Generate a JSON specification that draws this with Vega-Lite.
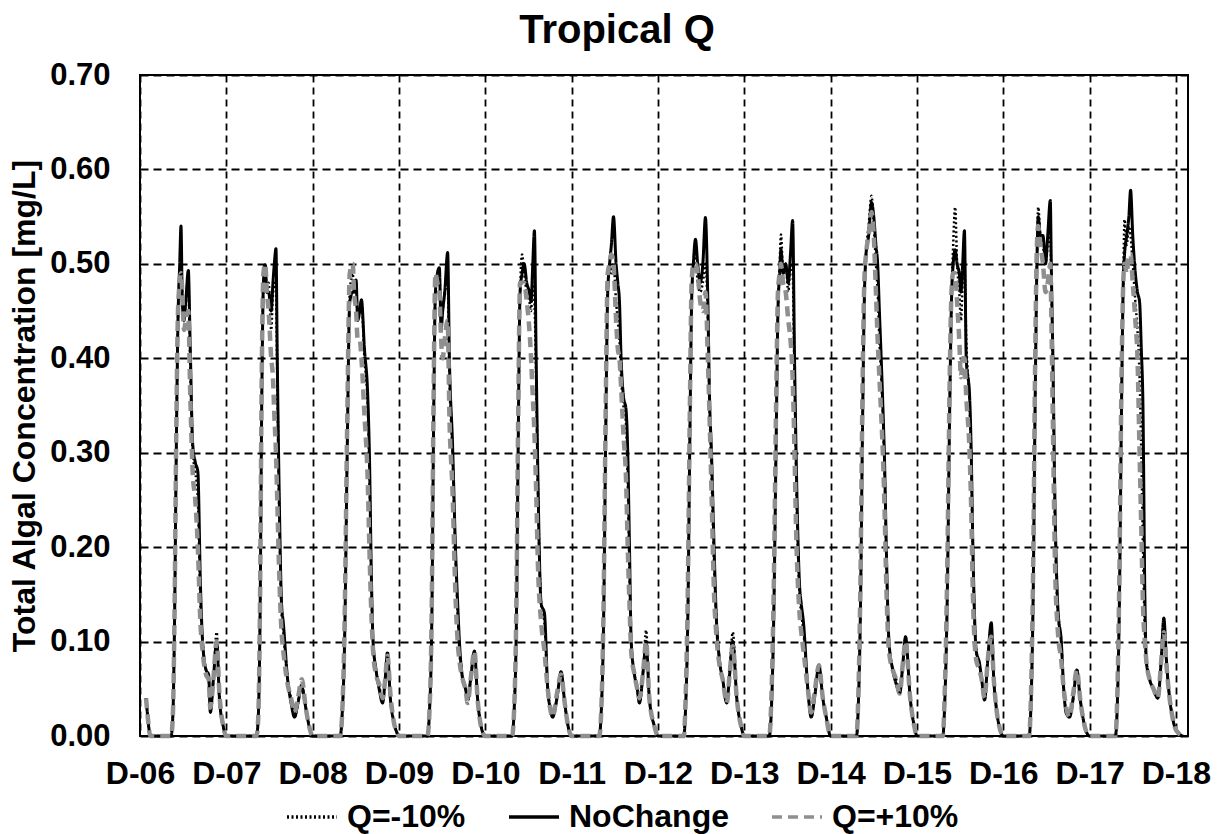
{
"$schema": "https://vega.github.io/schema/vega-lite/v6.json",
"width": 1048,
"height": 661,
"autosize": {"type": "none"},
"padding": {"left": 140, "top": 75, "right": 34, "bottom": 98},
"background": "white",
"title": {"text": "Tropical Q", "fontSize": 40, "font": "Liberation Sans", "fontWeight": "bold", "color": "black", "anchor": "middle", "frame": "group", "dx": -47, "offset": 8},
"data": {"values": [
{"t":0.07,"a":0.04,"b":0.04,"c":0.04},
{"t":0.09,"a":0.02,"b":0.02,"c":0.02},
{"t":0.12,"a":0,"b":0,"c":0},
{"t":0.36,"a":0,"b":0,"c":0},
{"t":0.38,"a":0.02,"b":0.02,"c":0.02},
{"t":0.40,"a":0.12,"b":0.12,"c":0.13},
{"t":0.42,"a":0.30,"b":0.30,"c":0.32},
{"t":0.44,"a":0.44,"b":0.44,"c":0.45},
{"t":0.46,"a":0.49,"b":0.50,"c":0.48},
{"t":0.475,"a":0.50,"b":0.54,"c":0.49},
{"t":0.49,"a":0.47,"b":0.46,"c":0.47},
{"t":0.51,"a":0.44,"b":0.44,"c":0.43},
{"t":0.53,"a":0.46,"b":0.46,"c":0.44},
{"t":0.56,"a":0.48,"b":0.493,"c":0.45},
{"t":0.58,"a":0.40,"b":0.42,"c":0.37},
{"t":0.61,"a":0.30,"b":0.31,"c":0.28},
{"t":0.64,"a":0.28,"b":0.29,"c":0.25},
{"t":0.67,"a":0.25,"b":0.28,"c":0.20},
{"t":0.70,"a":0.14,"b":0.16,"c":0.12},
{"t":0.725,"a":0.10,"b":0.10,"c":0.09},
{"t":0.765,"a":0.07,"b":0.07,"c":0.065},
{"t":0.795,"a":0.06,"b":0.065,"c":0.06},
{"t":0.815,"a":0.03,"b":0.025,"c":0.03},
{"t":0.85,"a":0.06,"b":0.06,"c":0.06},
{"t":0.888,"a":0.11,"b":0.10,"c":0.10},
{"t":0.92,"a":0.04,"b":0.04,"c":0.045},
{"t":0.965,"a":0.01,"b":0.01,"c":0.01},
{"t":1.00,"a":0,"b":0,"c":0},
{"t":1.35,"a":0,"b":0,"c":0},
{"t":1.37,"a":0.02,"b":0.02,"c":0.02},
{"t":1.39,"a":0.12,"b":0.12,"c":0.14},
{"t":1.41,"a":0.35,"b":0.35,"c":0.38},
{"t":1.43,"a":0.48,"b":0.48,"c":0.49},
{"t":1.45,"a":0.50,"b":0.499,"c":0.50},
{"t":1.47,"a":0.47,"b":0.47,"c":0.47},
{"t":1.49,"a":0.48,"b":0.47,"c":0.45},
{"t":1.52,"a":0.43,"b":0.45,"c":0.40},
{"t":1.54,"a":0.47,"b":0.48,"c":0.38},
{"t":1.556,"a":0.48,"b":0.50,"c":0.34},
{"t":1.575,"a":0.47,"b":0.516,"c":0.30},
{"t":1.59,"a":0.38,"b":0.40,"c":0.25},
{"t":1.61,"a":0.25,"b":0.27,"c":0.18},
{"t":1.64,"a":0.13,"b":0.14,"c":0.11},
{"t":1.66,"a":0.11,"b":0.12,"c":0.09},
{"t":1.71,"a":0.06,"b":0.06,"c":0.055},
{"t":1.75,"a":0.04,"b":0.035,"c":0.04},
{"t":1.79,"a":0.02,"b":0.02,"c":0.025},
{"t":1.83,"a":0.035,"b":0.035,"c":0.04},
{"t":1.873,"a":0.055,"b":0.052,"c":0.06},
{"t":1.92,"a":0.03,"b":0.03,"c":0.03},
{"t":1.96,"a":0.01,"b":0.01,"c":0.01},
{"t":2.00,"a":0,"b":0,"c":0},
{"t":2.32,"a":0,"b":0,"c":0},
{"t":2.34,"a":0.02,"b":0.02,"c":0.02},
{"t":2.37,"a":0.10,"b":0.10,"c":0.12},
{"t":2.40,"a":0.30,"b":0.30,"c":0.33},
{"t":2.43,"a":0.47,"b":0.46,"c":0.49},
{"t":2.464,"a":0.49,"b":0.47,"c":0.50},
{"t":2.48,"a":0.47,"b":0.47,"c":0.47},
{"t":2.503,"a":0.48,"b":0.483,"c":0.45},
{"t":2.522,"a":0.44,"b":0.44,"c":0.42},
{"t":2.545,"a":0.45,"b":0.45,"c":0.42},
{"t":2.565,"a":0.46,"b":0.462,"c":0.40},
{"t":2.60,"a":0.40,"b":0.41,"c":0.34},
{"t":2.638,"a":0.35,"b":0.36,"c":0.27},
{"t":2.657,"a":0.28,"b":0.30,"c":0.20},
{"t":2.68,"a":0.16,"b":0.17,"c":0.13},
{"t":2.70,"a":0.10,"b":0.10,"c":0.09},
{"t":2.734,"a":0.07,"b":0.07,"c":0.065},
{"t":2.77,"a":0.055,"b":0.05,"c":0.055},
{"t":2.81,"a":0.035,"b":0.035,"c":0.04},
{"t":2.84,"a":0.06,"b":0.06,"c":0.06},
{"t":2.867,"a":0.09,"b":0.088,"c":0.085},
{"t":2.90,"a":0.04,"b":0.04,"c":0.045},
{"t":2.94,"a":0.015,"b":0.015,"c":0.015},
{"t":2.97,"a":0.005,"b":0.005,"c":0.005},
{"t":3.00,"a":0,"b":0,"c":0},
{"t":3.33,"a":0,"b":0,"c":0},
{"t":3.35,"a":0.02,"b":0.02,"c":0.02},
{"t":3.38,"a":0.12,"b":0.12,"c":0.14},
{"t":3.40,"a":0.32,"b":0.32,"c":0.35},
{"t":3.422,"a":0.47,"b":0.47,"c":0.49},
{"t":3.445,"a":0.49,"b":0.49,"c":0.48},
{"t":3.468,"a":0.49,"b":0.496,"c":0.47},
{"t":3.488,"a":0.44,"b":0.43,"c":0.42},
{"t":3.506,"a":0.45,"b":0.45,"c":0.40},
{"t":3.53,"a":0.47,"b":0.47,"c":0.42},
{"t":3.564,"a":0.48,"b":0.512,"c":0.44},
{"t":3.584,"a":0.38,"b":0.40,"c":0.34},
{"t":3.62,"a":0.30,"b":0.31,"c":0.26},
{"t":3.654,"a":0.19,"b":0.20,"c":0.15},
{"t":3.68,"a":0.13,"b":0.14,"c":0.10},
{"t":3.70,"a":0.09,"b":0.10,"c":0.08},
{"t":3.738,"a":0.06,"b":0.06,"c":0.06},
{"t":3.77,"a":0.05,"b":0.05,"c":0.05},
{"t":3.796,"a":0.035,"b":0.04,"c":0.035},
{"t":3.83,"a":0.06,"b":0.06,"c":0.06},
{"t":3.874,"a":0.09,"b":0.09,"c":0.09},
{"t":3.91,"a":0.04,"b":0.04,"c":0.04},
{"t":3.951,"a":0.01,"b":0.01,"c":0.01},
{"t":4.00,"a":0,"b":0,"c":0},
{"t":4.31,"a":0,"b":0,"c":0},
{"t":4.33,"a":0.02,"b":0.02,"c":0.02},
{"t":4.36,"a":0.12,"b":0.12,"c":0.14},
{"t":4.38,"a":0.30,"b":0.30,"c":0.33},
{"t":4.403,"a":0.47,"b":0.47,"c":0.48},
{"t":4.426,"a":0.51,"b":0.49,"c":0.48},
{"t":4.45,"a":0.49,"b":0.50,"c":0.48},
{"t":4.48,"a":0.47,"b":0.48,"c":0.46},
{"t":4.511,"a":0.46,"b":0.47,"c":0.43},
{"t":4.53,"a":0.45,"b":0.46,"c":0.40},
{"t":4.55,"a":0.48,"b":0.50,"c":0.36},
{"t":4.569,"a":0.46,"b":0.535,"c":0.32},
{"t":4.589,"a":0.38,"b":0.40,"c":0.26},
{"t":4.61,"a":0.26,"b":0.27,"c":0.18},
{"t":4.647,"a":0.14,"b":0.14,"c":0.12},
{"t":4.685,"a":0.12,"b":0.13,"c":0.09},
{"t":4.723,"a":0.05,"b":0.05,"c":0.05},
{"t":4.75,"a":0.03,"b":0.03,"c":0.03},
{"t":4.78,"a":0.02,"b":0.02,"c":0.02},
{"t":4.83,"a":0.04,"b":0.04,"c":0.045},
{"t":4.878,"a":0.068,"b":0.068,"c":0.065},
{"t":4.92,"a":0.035,"b":0.035,"c":0.035},
{"t":4.96,"a":0.01,"b":0.01,"c":0.01},
{"t":5.00,"a":0,"b":0,"c":0},
{"t":5.32,"a":0,"b":0,"c":0},
{"t":5.34,"a":0.02,"b":0.02,"c":0.02},
{"t":5.37,"a":0.12,"b":0.12,"c":0.14},
{"t":5.395,"a":0.32,"b":0.32,"c":0.35},
{"t":5.418,"a":0.47,"b":0.47,"c":0.49},
{"t":5.44,"a":0.50,"b":0.50,"c":0.50},
{"t":5.46,"a":0.49,"b":0.52,"c":0.51},
{"t":5.485,"a":0.50,"b":0.55,"c":0.50},
{"t":5.515,"a":0.46,"b":0.50,"c":0.44},
{"t":5.535,"a":0.44,"b":0.48,"c":0.41},
{"t":5.554,"a":0.42,"b":0.46,"c":0.40},
{"t":5.573,"a":0.38,"b":0.40,"c":0.37},
{"t":5.60,"a":0.35,"b":0.36,"c":0.32},
{"t":5.631,"a":0.33,"b":0.345,"c":0.27},
{"t":5.65,"a":0.27,"b":0.30,"c":0.20},
{"t":5.67,"a":0.17,"b":0.20,"c":0.14},
{"t":5.69,"a":0.10,"b":0.10,"c":0.09},
{"t":5.728,"a":0.065,"b":0.065,"c":0.065},
{"t":5.76,"a":0.05,"b":0.05,"c":0.05},
{"t":5.785,"a":0.035,"b":0.035,"c":0.04},
{"t":5.83,"a":0.07,"b":0.07,"c":0.07},
{"t":5.863,"a":0.112,"b":0.10,"c":0.10},
{"t":5.90,"a":0.04,"b":0.04,"c":0.04},
{"t":5.96,"a":0.01,"b":0.01,"c":0.01},
{"t":6.00,"a":0,"b":0,"c":0},
{"t":6.30,"a":0,"b":0,"c":0},
{"t":6.32,"a":0.03,"b":0.03,"c":0.04},
{"t":6.345,"a":0.12,"b":0.12,"c":0.15},
{"t":6.37,"a":0.32,"b":0.32,"c":0.35},
{"t":6.39,"a":0.46,"b":0.46,"c":0.48},
{"t":6.41,"a":0.50,"b":0.50,"c":0.50},
{"t":6.435,"a":0.51,"b":0.526,"c":0.50},
{"t":6.46,"a":0.48,"b":0.50,"c":0.49},
{"t":6.49,"a":0.47,"b":0.48,"c":0.46},
{"t":6.52,"a":0.48,"b":0.50,"c":0.45},
{"t":6.55,"a":0.50,"b":0.549,"c":0.47},
{"t":6.578,"a":0.44,"b":0.46,"c":0.40},
{"t":6.597,"a":0.35,"b":0.36,"c":0.34},
{"t":6.62,"a":0.28,"b":0.30,"c":0.26},
{"t":6.65,"a":0.18,"b":0.20,"c":0.15},
{"t":6.674,"a":0.13,"b":0.13,"c":0.11},
{"t":6.713,"a":0.08,"b":0.08,"c":0.075},
{"t":6.75,"a":0.06,"b":0.06,"c":0.06},
{"t":6.797,"a":0.035,"b":0.035,"c":0.035},
{"t":6.83,"a":0.07,"b":0.065,"c":0.065},
{"t":6.867,"a":0.11,"b":0.10,"c":0.095},
{"t":6.913,"a":0.04,"b":0.04,"c":0.04},
{"t":6.964,"a":0.01,"b":0.01,"c":0.01},
{"t":7.00,"a":0,"b":0,"c":0},
{"t":7.29,"a":0,"b":0,"c":0},
{"t":7.31,"a":0.02,"b":0.02,"c":0.03},
{"t":7.34,"a":0.12,"b":0.12,"c":0.15},
{"t":7.37,"a":0.32,"b":0.32,"c":0.36},
{"t":7.39,"a":0.45,"b":0.45,"c":0.47},
{"t":7.41,"a":0.50,"b":0.49,"c":0.49},
{"t":7.425,"a":0.531,"b":0.515,"c":0.50},
{"t":7.45,"a":0.49,"b":0.49,"c":0.48},
{"t":7.48,"a":0.50,"b":0.50,"c":0.47},
{"t":7.51,"a":0.47,"b":0.48,"c":0.44},
{"t":7.535,"a":0.50,"b":0.51,"c":0.42},
{"t":7.56,"a":0.49,"b":0.546,"c":0.38},
{"t":7.582,"a":0.38,"b":0.40,"c":0.30},
{"t":7.60,"a":0.28,"b":0.30,"c":0.22},
{"t":7.64,"a":0.15,"b":0.16,"c":0.13},
{"t":7.66,"a":0.13,"b":0.14,"c":0.11},
{"t":7.686,"a":0.11,"b":0.12,"c":0.09},
{"t":7.736,"a":0.05,"b":0.05,"c":0.05},
{"t":7.775,"a":0.02,"b":0.02,"c":0.025},
{"t":7.82,"a":0.045,"b":0.045,"c":0.05},
{"t":7.864,"a":0.075,"b":0.075,"c":0.075},
{"t":7.91,"a":0.04,"b":0.04,"c":0.04},
{"t":7.949,"a":0.02,"b":0.02,"c":0.02},
{"t":8.00,"a":0,"b":0,"c":0},
{"t":8.30,"a":0,"b":0,"c":0},
{"t":8.32,"a":0.03,"b":0.03,"c":0.04},
{"t":8.345,"a":0.13,"b":0.13,"c":0.16},
{"t":8.37,"a":0.33,"b":0.33,"c":0.37},
{"t":8.39,"a":0.46,"b":0.46,"c":0.48},
{"t":8.41,"a":0.51,"b":0.51,"c":0.51},
{"t":8.44,"a":0.54,"b":0.53,"c":0.53},
{"t":8.474,"a":0.572,"b":0.565,"c":0.555},
{"t":8.50,"a":0.54,"b":0.55,"c":0.53},
{"t":8.525,"a":0.50,"b":0.52,"c":0.47},
{"t":8.545,"a":0.47,"b":0.50,"c":0.42},
{"t":8.565,"a":0.42,"b":0.45,"c":0.38},
{"t":8.586,"a":0.38,"b":0.40,"c":0.34},
{"t":8.605,"a":0.34,"b":0.35,"c":0.30},
{"t":8.625,"a":0.28,"b":0.29,"c":0.24},
{"t":8.645,"a":0.19,"b":0.20,"c":0.16},
{"t":8.676,"a":0.10,"b":0.10,"c":0.09},
{"t":8.72,"a":0.07,"b":0.07,"c":0.07},
{"t":8.76,"a":0.06,"b":0.055,"c":0.06},
{"t":8.80,"a":0.045,"b":0.045,"c":0.045},
{"t":8.84,"a":0.08,"b":0.08,"c":0.08},
{"t":8.868,"a":0.105,"b":0.105,"c":0.10},
{"t":8.922,"a":0.04,"b":0.04,"c":0.04},
{"t":8.97,"a":0.01,"b":0.01,"c":0.01},
{"t":9.00,"a":0,"b":0,"c":0},
{"t":9.30,"a":0,"b":0,"c":0},
{"t":9.32,"a":0.03,"b":0.03,"c":0.04},
{"t":9.35,"a":0.14,"b":0.14,"c":0.17},
{"t":9.38,"a":0.35,"b":0.35,"c":0.38},
{"t":9.40,"a":0.46,"b":0.46,"c":0.47},
{"t":9.42,"a":0.52,"b":0.50,"c":0.49},
{"t":9.443,"a":0.56,"b":0.515,"c":0.49},
{"t":9.465,"a":0.50,"b":0.50,"c":0.46},
{"t":9.49,"a":0.47,"b":0.49,"c":0.42},
{"t":9.51,"a":0.44,"b":0.47,"c":0.38},
{"t":9.53,"a":0.48,"b":0.50,"c":0.40},
{"t":9.55,"a":0.50,"b":0.535,"c":0.40},
{"t":9.571,"a":0.42,"b":0.40,"c":0.36},
{"t":9.61,"a":0.35,"b":0.36,"c":0.30},
{"t":9.629,"a":0.29,"b":0.30,"c":0.24},
{"t":9.648,"a":0.19,"b":0.20,"c":0.15},
{"t":9.687,"a":0.09,"b":0.09,"c":0.08},
{"t":9.725,"a":0.075,"b":0.077,"c":0.07},
{"t":9.75,"a":0.06,"b":0.06,"c":0.06},
{"t":9.783,"a":0.038,"b":0.038,"c":0.04},
{"t":9.82,"a":0.08,"b":0.08,"c":0.08},
{"t":9.861,"a":0.11,"b":0.12,"c":0.105},
{"t":9.89,"a":0.06,"b":0.06,"c":0.06},
{"t":9.919,"a":0.03,"b":0.03,"c":0.03},
{"t":9.96,"a":0.008,"b":0.008,"c":0.008},
{"t":10.00,"a":0,"b":0,"c":0},
{"t":10.30,"a":0,"b":0,"c":0},
{"t":10.32,"a":0.03,"b":0.03,"c":0.04},
{"t":10.345,"a":0.14,"b":0.14,"c":0.17},
{"t":10.37,"a":0.36,"b":0.36,"c":0.40},
{"t":10.39,"a":0.50,"b":0.50,"c":0.52},
{"t":10.405,"a":0.56,"b":0.55,"c":0.54},
{"t":10.43,"a":0.53,"b":0.53,"c":0.52},
{"t":10.46,"a":0.52,"b":0.53,"c":0.50},
{"t":10.49,"a":0.50,"b":0.50,"c":0.47},
{"t":10.515,"a":0.52,"b":0.53,"c":0.48},
{"t":10.545,"a":0.53,"b":0.567,"c":0.50},
{"t":10.556,"a":0.49,"b":0.50,"c":0.45},
{"t":10.575,"a":0.38,"b":0.40,"c":0.33},
{"t":10.60,"a":0.22,"b":0.24,"c":0.18},
{"t":10.633,"a":0.13,"b":0.135,"c":0.11},
{"t":10.672,"a":0.10,"b":0.10,"c":0.08},
{"t":10.70,"a":0.05,"b":0.05,"c":0.05},
{"t":10.73,"a":0.025,"b":0.024,"c":0.03},
{"t":10.768,"a":0.02,"b":0.02,"c":0.02},
{"t":10.81,"a":0.04,"b":0.04,"c":0.045},
{"t":10.853,"a":0.07,"b":0.07,"c":0.07},
{"t":10.89,"a":0.04,"b":0.04,"c":0.04},
{"t":10.922,"a":0.02,"b":0.02,"c":0.02},
{"t":10.96,"a":0.005,"b":0.005,"c":0.005},
{"t":11.00,"a":0,"b":0,"c":0},
{"t":11.30,"a":0,"b":0,"c":0},
{"t":11.32,"a":0.03,"b":0.03,"c":0.04},
{"t":11.345,"a":0.14,"b":0.14,"c":0.17},
{"t":11.37,"a":0.35,"b":0.35,"c":0.38},
{"t":11.39,"a":0.48,"b":0.48,"c":0.48},
{"t":11.405,"a":0.547,"b":0.51,"c":0.50},
{"t":11.43,"a":0.52,"b":0.53,"c":0.49},
{"t":11.455,"a":0.54,"b":0.55,"c":0.51},
{"t":11.475,"a":0.53,"b":0.578,"c":0.51},
{"t":11.50,"a":0.50,"b":0.53,"c":0.48},
{"t":11.53,"a":0.46,"b":0.49,"c":0.44},
{"t":11.555,"a":0.43,"b":0.47,"c":0.40},
{"t":11.579,"a":0.38,"b":0.46,"c":0.30},
{"t":11.599,"a":0.30,"b":0.41,"c":0.22},
{"t":11.618,"a":0.20,"b":0.35,"c":0.14},
{"t":11.64,"a":0.11,"b":0.15,"c":0.10},
{"t":11.657,"a":0.08,"b":0.08,"c":0.08},
{"t":11.695,"a":0.06,"b":0.06,"c":0.06},
{"t":11.74,"a":0.05,"b":0.05,"c":0.05},
{"t":11.79,"a":0.04,"b":0.04,"c":0.04},
{"t":11.83,"a":0.08,"b":0.08,"c":0.08},
{"t":11.86,"a":0.12,"b":0.125,"c":0.11},
{"t":11.89,"a":0.08,"b":0.08,"c":0.075},
{"t":11.927,"a":0.04,"b":0.04,"c":0.04},
{"t":11.96,"a":0.02,"b":0.02,"c":0.02},
{"t":11.985,"a":0.01,"b":0.01,"c":0.01},
{"t":12.03,"a":0.003,"b":0.003,"c":0.003},
{"t":12.08,"a":0,"b":0,"c":0}
]},
"transform": [{"fold": ["a", "b", "c"], "as": ["s", "v"]}],
"encoding": {
  "x": {"field": "t", "type": "quantitative",
    "scale": {"domain": [0, 12.14], "nice": false, "zero": false},
    "axis": {"title": null, "values": [0,1,2,3,4,5,6,7,8,9,10,11,12],
      "labelExpr": "'D-' + (datum.value + 6 < 10 ? '0' : '') + (datum.value + 6)",
      "grid": true, "gridDash": [7, 5], "gridColor": "black", "gridWidth": 1.8, "gridOpacity": 1,
      "domain": false, "ticks": false, "tickSize": 0,
      "labelFontSize": 32, "labelFont": "Liberation Sans", "labelFontWeight": "bold", "labelColor": "black",
      "labelPadding": 22, "labelFlush": false, "labelOverlap": false}},
  "y": {"field": "v", "type": "quantitative",
    "scale": {"domain": [0, 0.7], "nice": false},
    "axis": {"title": "Total Algal Concentration [mg/L]", "values": [0, 0.1, 0.2, 0.3, 0.4, 0.5, 0.6, 0.7], "format": ".2f",
      "grid": true, "gridDash": [8, 5], "gridColor": "black", "gridWidth": 1.8, "gridOpacity": 1,
      "domain": false, "ticks": false, "tickSize": 0,
      "labelFontSize": 31, "labelFont": "Liberation Sans", "labelFontWeight": "bold", "labelColor": "black",
      "labelPadding": 30, "labelOverlap": false,
      "titleFontSize": 32, "titleFont": "Liberation Sans", "titleFontWeight": "bold", "titleColor": "black", "titlePadding": 8}},
  "color": {"field": "s", "type": "nominal",
    "scale": {"domain": ["a", "b", "c"], "range": ["#000000", "#000000", "#8f8f8f"]},
    "legend": {"title": null, "orient": "none", "legendX": 145, "legendY": 715, "direction": "horizontal",
      "symbolType": "stroke", "symbolSize": 2500, "symbolStrokeWidth": 3.5,
      "labelFontSize": 32, "labelFont": "Liberation Sans", "labelFontWeight": "bold", "labelColor": "black",
      "labelOffset": 8, "columnPadding": 36, "labelLimit": 400,
      "labelExpr": "datum.label == 'a' ? 'Q=-10%' : datum.label == 'b' ? 'NoChange' : 'Q=+10%'"}},
  "strokeDash": {"field": "s", "type": "nominal",
    "scale": {"domain": ["a", "b", "c"], "range": [[2, 2.5], [1, 0], [10, 6]]},
    "legend": {"title": null, "orient": "none", "legendX": 145, "legendY": 715, "direction": "horizontal",
      "symbolType": "stroke", "symbolSize": 2500, "symbolStrokeWidth": 3.5,
      "labelFontSize": 32, "labelFont": "Liberation Sans", "labelFontWeight": "bold", "labelColor": "black",
      "labelOffset": 8, "columnPadding": 36, "labelLimit": 400,
      "labelExpr": "datum.label == 'a' ? 'Q=-10%' : datum.label == 'b' ? 'NoChange' : 'Q=+10%'"}}
},
"layer": [
  {"transform": [{"filter": "datum.s == 'a'"}], "mark": {"type": "line", "strokeWidth": 2.5, "interpolate": "monotone"}},
  {"transform": [{"filter": "datum.s == 'b'"}], "mark": {"type": "line", "strokeWidth": 3, "interpolate": "monotone"}},
  {"transform": [{"filter": "datum.s == 'c'"}], "mark": {"type": "line", "strokeWidth": 4.5, "interpolate": "monotone"}}
],
"config": {"view": {"stroke": "black", "strokeWidth": 2}}
}
